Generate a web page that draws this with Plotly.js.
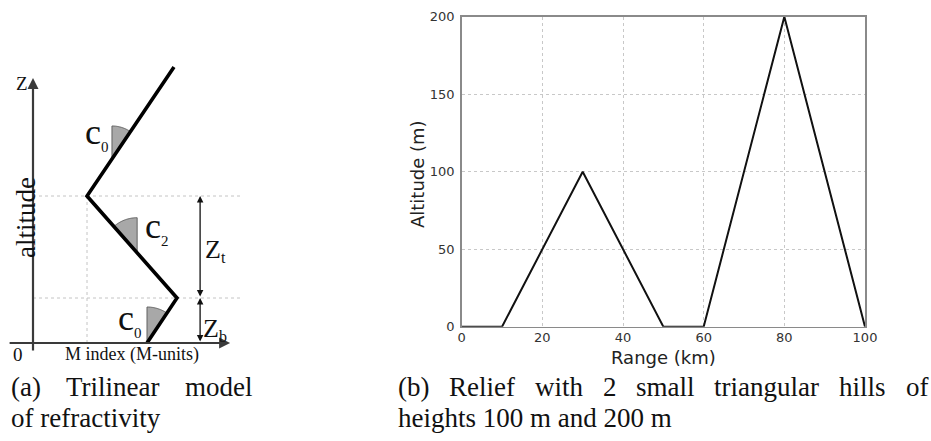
<!DOCTYPE html>
<html><head><meta charset="utf-8">
<script src="https://cdn.plot.ly/plotly-3.0.1.min.js"></script>
<style>html,body{margin:0;padding:0;background:#fff;} #chart{width:931px;height:441px;}</style>
</head><body><div id="chart"></div>
<script>
// ---- Panel (b): relief with two triangular hills ----
const rangeKm = [0, 10, 30, 50, 60, 80, 100];
const altitudeM = [0, 0, 100, 0, 0, 200, 0];
const xTicks = [0, 20, 40, 60, 80, 100];
const yTicks = [0, 50, 100, 150, 200];

// ---- Panel (a): trilinear refractivity profile (arbitrary units) ----
const profileM = [3.8, 4.8, 1.8, 4.7];
const profileZ = [0, 1.5, 4.9, 9.2];
const angleNames = ['c', 'c', 'c'];
const angleSubs = ['0', '2', '0'];

// ---- Captions ----
const captionA = ['(a) Trilinear model', 'of refractivity'];
const captionB = ['(b) Relief with 2 small triangular hills of', 'heights 100 m and 200 m'];

const W = 931, H = 441;
const px = x => x / W, py = y => 1 - y / H;
const serif = 'Liberation Serif';

// wedge (angle marker) between the vertical and the upward direction of a segment
function wedge(seg, t, r) {
  const x0 = profileM[seg], z0 = profileZ[seg], x1 = profileM[seg + 1], z1 = profileZ[seg + 1];
  const cx = x0 + t * (x1 - x0), cz = z0 + t * (z1 - z0);
  let dx = x1 - x0, dz = z1 - z0;
  if (dz < 0) { dx = -dx; dz = -dz; }
  const a1 = Math.PI / 2, a2 = Math.atan2(dz, dx);
  let p = `M ${cx},${cz}`;
  for (let i = 0; i <= 30; i++) {
    const a = a1 + (a2 - a1) * i / 30;
    p += ` L ${cx + r * Math.cos(a)},${cz + r * Math.sin(a)}`;
  }
  return p + ' Z';
}

const shapes = [];
// dotted guide lines of panel (a)
const zb = profileZ[1], zt = profileZ[2];
[[0, zt, 6.9, zt], [0, zb, 6.9, zb], [profileM[2], 0, profileM[2], zt]].forEach(l => {
  shapes.push({type: 'line', xref: 'x2', yref: 'y2', x0: l[0], y0: l[1], x1: l[2], y1: l[3],
    line: {color: '#c4c4c4', width: 1, dash: 'dot'}, layer: 'below'});
});
[[2, 0.287, 1.1], [1, 0.443, 1.17], [0, 0, 1.2]].forEach(w => {
  shapes.push({type: 'path', xref: 'x2', yref: 'y2', path: wedge(w[0], w[1], w[2]),
    fillcolor: '#a8a8a8', line: {color: '#606060', width: 1}, layer: 'below'});
});

const ann = [];
function arrow(x, y, ax, ay, opts) {
  ann.push(Object.assign({x, y, ax, ay, xref: 'x2', yref: 'y2', axref: 'x2', ayref: 'y2',
    text: '', showarrow: true, arrowhead: 2, arrowsize: 1, arrowwidth: 1.8,
    arrowcolor: '#333', standoff: 0, startstandoff: 0}, opts || {}));
}
// axes of panel (a)
arrow(0, 8.83, 0, -0.3, {arrowwidth: 2.2, arrowcolor: '#3a3a3a'});
arrow(6.57, 0, -0.83, 0, {arrowwidth: 2.2, arrowcolor: '#3a3a3a'});
// Zt, Zb double arrows
arrow(5.57, zt, 5.57, zb, {arrowside: 'end+start', startarrowhead: 2, arrowwidth: 1.3, arrowcolor: '#111'});
arrow(5.57, zb, 5.57, 0, {arrowside: 'end+start', startarrowhead: 2, arrowwidth: 1.3, arrowcolor: '#111'});

function txt(x, y, text, size, extra) {
  ann.push(Object.assign({x, y, xref: 'x2', yref: 'y2', text, showarrow: false,
    font: {family: serif, size, color: '#111'}, xanchor: 'center', yanchor: 'middle'}, extra || {}));
}
const angleLabel = i => angleNames[i] + '<sub><span style="font-size:15px">' + angleSubs[i] + '</span></sub>';
txt(-0.37, 8.65, 'Z', 19);
txt(2.1, 7.0, angleLabel(0), 36);
txt(4.13, 3.85, angleLabel(1), 36);
txt(3.23, 0.8, angleLabel(2), 36);
txt(6.07, 3.1, 'Z<sub><span style="font-size:16px">t</span></sub>', 26);
txt(6.07, 0.45, 'Z<sub><span style="font-size:16px">b</span></sub>', 26);
txt(-0.23, 4.17, 'altitude', 27, {textangle: -90});
txt(-0.5, -0.37, '0', 19);
txt(3.3, -0.37, 'M index (M-units)', 18);

// axis titles of panel (b)
ann.push({x: px(663), y: py(357), xref: 'paper', yref: 'paper', text: 'Range (km)', showarrow: false,
  font: {family: 'DejaVu Sans', size: 18, color: '#222'}, xanchor: 'center', yanchor: 'middle'});
ann.push({x: px(417), y: py(174), xref: 'paper', yref: 'paper', text: 'Altitude (m)', showarrow: false,
  textangle: -90, font: {family: 'DejaVu Sans', size: 18, color: '#222'}, xanchor: 'center', yanchor: 'middle'});

// captions (first lines justified)
const capSize = 27;
const cv = document.createElement('canvas').getContext('2d');
cv.font = capSize + 'px "' + serif + '"';
function justified(line, x0, x1, yc) {
  const words = line.split(' ');
  const widths = words.map(w => cv.measureText(w).width);
  const total = widths.reduce((a, b) => a + b, 0);
  const gap = (x1 - x0 - total) / (words.length - 1);
  let x = x0;
  words.forEach((w, i) => {
    ann.push({x: px(x), y: py(yc), xref: 'paper', yref: 'paper', text: w, showarrow: false,
      font: {family: serif, size: capSize, color: '#111'}, xanchor: 'left', yanchor: 'middle', borderpad: 0});
    x += widths[i] + gap;
  });
}
function plain(line, x0, yc) {
  ann.push({x: px(x0), y: py(yc), xref: 'paper', yref: 'paper', text: line, showarrow: false,
    font: {family: serif, size: capSize, color: '#111'}, xanchor: 'left', yanchor: 'middle', borderpad: 0});
}
justified(captionA[0], 10, 251, 387);
plain(captionA[1], 10, 418);
justified(captionB[0], 397, 927, 387);
plain(captionB[1], 397, 418);

const traces = [
  {x: rangeKm, y: altitudeM, xaxis: 'x', yaxis: 'y', mode: 'lines',
   line: {color: '#111', width: 2}, hoverinfo: 'skip'},
  {x: profileM, y: profileZ, xaxis: 'x2', yaxis: 'y2', mode: 'lines',
   line: {color: '#000', width: 3.6}, hoverinfo: 'skip'}
];

const grid = {gridcolor: '#c8c8c8', griddash: 'dot', gridwidth: 1};
const layout = {
  width: W, height: H, margin: {l: 0, r: 0, t: 0, b: 0},
  paper_bgcolor: '#fff', plot_bgcolor: 'rgba(0,0,0,0)', showlegend: false,
  xaxis: Object.assign({domain: [461.7 / W, 865 / W], range: [0, 100], tickvals: xTicks,
    showline: true, mirror: true, linecolor: '#8a8a8a', linewidth: 1.5, zeroline: false,
    ticks: '', ticklabelstandoff: -2, tickfont: {family: 'DejaVu Sans', size: 13, color: '#333'}, anchor: 'y', fixedrange: true}, grid),
  yaxis: Object.assign({domain: [1 - 326.7 / H, 1 - 16.7 / H], range: [0, 200], tickvals: yTicks,
    showline: true, mirror: true, linecolor: '#8a8a8a', linewidth: 1.5, zeroline: false,
    ticks: '', ticklabelstandoff: 3, tickfont: {family: 'DejaVu Sans', size: 13, color: '#333'}, anchor: 'x', fixedrange: true}, grid),
  xaxis2: {domain: [0, 250 / W], range: [-33 / 30, 217 / 30], visible: false, anchor: 'y2', fixedrange: true},
  yaxis2: {domain: [0, 1], range: [-98 / 30, 343 / 30], visible: false, anchor: 'x2', fixedrange: true},
  shapes, annotations: ann
};

Plotly.newPlot('chart', traces, layout, {displayModeBar: false, staticPlot: true});
</script></body></html>
